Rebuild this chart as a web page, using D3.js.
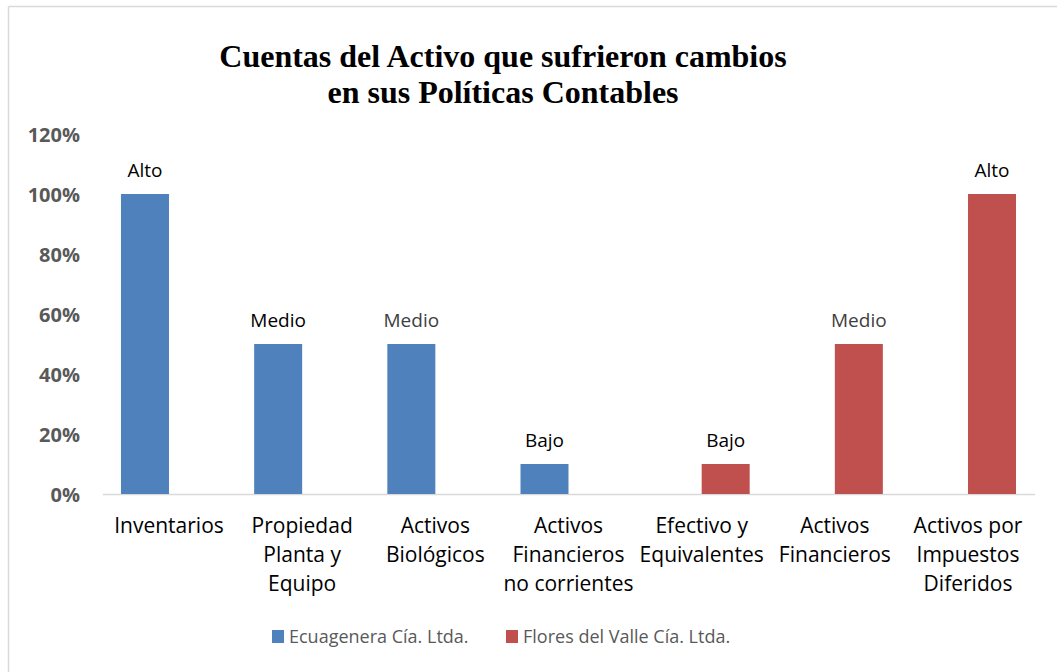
<!DOCTYPE html>
<html>
<head>
<meta charset="utf-8">
<script src="https://cdn.jsdelivr.net/npm/d3@7"></script>
<style>
  html, body { margin: 0; padding: 0; background: #ffffff; }
  svg { display: block; }
</style>
</head>
<body>
<svg id="chart" width="1057" height="672"></svg>
<script>
// Accounts whose accounting policies changed, by company
const categories = [
  ["Inventarios"],
  ["Propiedad", "Planta y", "Equipo"],
  ["Activos", "Biológicos"],
  ["Activos", "Financieros", "no corrientes"],
  ["Efectivo y", "Equivalentes"],
  ["Activos", "Financieros"],
  ["Activos por", "Impuestos", "Diferidos"]
];
const seriesNames = ["Ecuagenera Cía. Ltda.", "Flores del Valle Cía. Ltda."];
// null = no bar for that company in that category
const ecuagenera = [1.00, 0.50, 0.50, 0.10, null, null, null];
const floresDelValle = [null, null, null, null, 0.10, 0.50, 1.00];
const levelLabels = ["Alto", "Medio", "Medio", "Bajo", "Bajo", "Medio", "Alto"];
const yTicks = [0, 0.2, 0.4, 0.6, 0.8, 1.0, 1.2];
const titleLines = ["Cuentas del Activo que sufrieron cambios", "en sus Políticas Contables"];

const seriesColors = ["#4f81bd", "#c0504d"];
const labelColors = ["#000000", "#000000", "#404040", "#000000", "#000000", "#404040", "#000000"];

const svg = d3.select("#chart");
const W = 1057, H = 672;
const plot = { left: 102.4, right: 1034.6, top: 134, bottom: 494 };
const sans = "'Open Sans', 'Noto Sans', sans-serif";

// chart frame (only the top and left edges are inside the view)
svg.append("line").attr("x1", 8.5).attr("x2", W).attr("y1", 6.5).attr("y2", 6.5)
  .attr("stroke", "#d9d9d9").attr("stroke-width", 1.5);
svg.append("line").attr("x1", 8.5).attr("x2", 8.5).attr("y1", 6.5).attr("y2", H)
  .attr("stroke", "#d9d9d9").attr("stroke-width", 1.5);

// title
svg.append("text")
  .attr("x", 503).attr("y", 67)
  .attr("text-anchor", "middle")
  .attr("font-family", "'Liberation Serif', 'Times New Roman', serif")
  .attr("font-weight", "bold").attr("font-size", 32)
  .attr("fill", "#000")
  .selectAll("tspan").data(titleLines).join("tspan")
  .attr("x", 503).attr("dy", (d, i) => i === 0 ? 0 : 36)
  .text(d => d);

const idx = d3.range(categories.length);
const x0 = d3.scaleBand().domain(idx).range([plot.left, plot.right]).padding(0);
const groupW = 96;
const x1 = d3.scaleBand().domain([0, 1]).range([-groupW / 2, groupW / 2]).padding(0);
const y = d3.scaleLinear().domain([0, 1.2]).range([plot.bottom, plot.top]);

// y axis labels (no axis line, no gridlines)
const yAxis = d3.axisLeft(y).tickValues(yTicks).tickFormat(d3.format(".0%")).tickSize(0).tickPadding(0);
const yg = svg.append("g").attr("transform", `translate(80,0)`).call(yAxis);
yg.select(".domain").remove();
yg.selectAll("text")
  .attr("font-family", sans).attr("font-weight", "bold").attr("font-size", 20)
  .attr("fill", "#595959").attr("dy", "0.36em");

// x axis line + category labels
const xAxis = d3.axisBottom(x0).tickSize(0).tickFormat("");
const xg = svg.append("g").attr("transform", `translate(0,${plot.bottom})`).call(xAxis);
xg.select(".domain").attr("stroke", "#d9d9d9").attr("stroke-width", 1.5);
xg.selectAll(".tick text").remove();
xg.selectAll(".tick").each(function (d) {
  const t = d3.select(this).append("text")
    .attr("y", 39).attr("text-anchor", "middle")
    .attr("font-family", sans).attr("font-size", 21).attr("fill", "#000");
  categories[d].forEach((line, i) => {
    t.append("tspan").attr("x", 0).attr("dy", i === 0 ? 0 : 29).text(line);
  });
});

// bars
const series = [ecuagenera, floresDelValle];
const bars = [];
series.forEach((vals, s) => {
  vals.forEach((v, i) => { if (v !== null) bars.push({ s, i, v }); });
});
const barG = svg.append("g");
barG.selectAll("rect").data(bars).join("rect")
  .attr("x", d => x0(d.i) + x0.bandwidth() / 2 + x1(d.s))
  .attr("width", x1.bandwidth())
  .attr("y", d => y(d.v))
  .attr("height", d => y(0) - y(d.v))
  .attr("fill", d => seriesColors[d.s]);

// level labels above bars
barG.selectAll("text").data(bars).join("text")
  .attr("x", d => x0(d.i) + x0.bandwidth() / 2 + x1(d.s) + x1.bandwidth() / 2)
  .attr("y", d => y(d.v) - 17)
  .attr("text-anchor", "middle")
  .attr("font-family", sans).attr("font-size", 19)
  .attr("fill", d => labelColors[d.i])
  .text(d => levelLabels[d.i]);

// legend
const legend = svg.append("g");
const legendX = [272, 506];
seriesNames.forEach((name, s) => {
  legend.append("rect").attr("x", legendX[s]).attr("y", 630).attr("width", 12).attr("height", 13)
    .attr("fill", seriesColors[s]);
  legend.append("text").attr("x", legendX[s] + 17).attr("y", 643)
    .attr("font-family", sans).attr("font-size", 18).attr("fill", "#595959")
    .text(name);
});
</script>
</body>
</html>
